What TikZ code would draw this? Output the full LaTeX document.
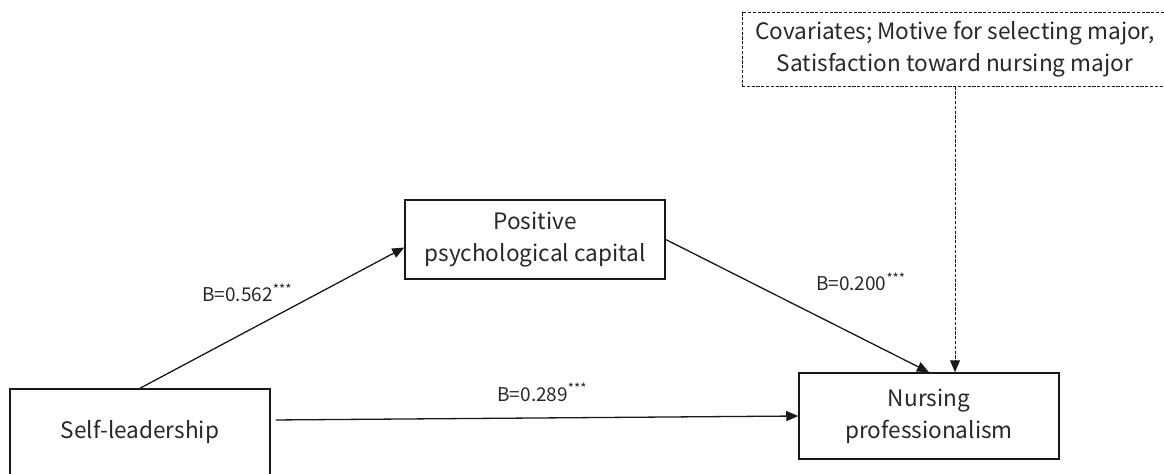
\documentclass[tikz,border=0pt]{standalone}
\usepackage{fontspec}
\setmainfont{Noto Sans CJK KR}
\usepackage{tikz}
\usetikzlibrary{positioning, arrows.meta, calc}
\definecolor{linegray}{RGB}{25,25,25}
\definecolor{textgray}{RGB}{40,40,40}

\begin{document}
\begin{tikzpicture}[
  x=0.5pt, y=-0.5pt,
  var/.style={
    rectangle, draw=linegray, line width=0.75pt, fill=white,
    minimum width=130pt, align=center, inner sep=0pt,
    font=\fontsize{11.3}{16}\selectfont, text=textgray
  },
  covbox/.style={
    var, dashed, dash pattern=on 1.6pt off 0.8pt, line width=0.5pt,
    minimum width=213pt, minimum height=37pt
  },
  arr/.style={-{Triangle[length=6pt, width=5pt]}, line width=0.65pt, linegray},
  coef/.style={font=\fontsize{9.5}{12}\selectfont, text=textgray, inner sep=1pt}
]
\useasboundingbox (0,0) rectangle (1164,473);

\node[var, minimum height=43pt] (self) at (140,432) {Self-leadership};
\node[var, minimum height=39.5pt] (pos) at (535,239.5) {Positive\\psychological capital};
\node[var, minimum height=43pt] (nurs) at (929,416) {Nursing\\professionalism};
\node[covbox] (cov) at (955,49) {Covariates; Motive for selecting major,\\Satisfaction toward nursing major};

\draw[arr] (self.north) -- ([yshift=-4pt]pos.west)
  node[coef, midway, above left=6.5pt and -11.5pt] {B=0.562\textsuperscript{***}};
\draw[arr] (pos.east) -- (nurs.north)
  node[coef, midway, above right=6pt and 8pt] {B=0.200\textsuperscript{***}};
\draw[arr, shorten <=2.5pt] ([yshift=6pt]self.east) -- (nurs.west)
  node[coef, midway, above=7pt, xshift=4pt] {B=0.289\textsuperscript{***}};
\draw[arr, dashed, dash pattern=on 1.6pt off 0.8pt, line width=0.5pt] (cov.south) -- (cov.south |- nurs.north);

\end{tikzpicture}
\end{document}
